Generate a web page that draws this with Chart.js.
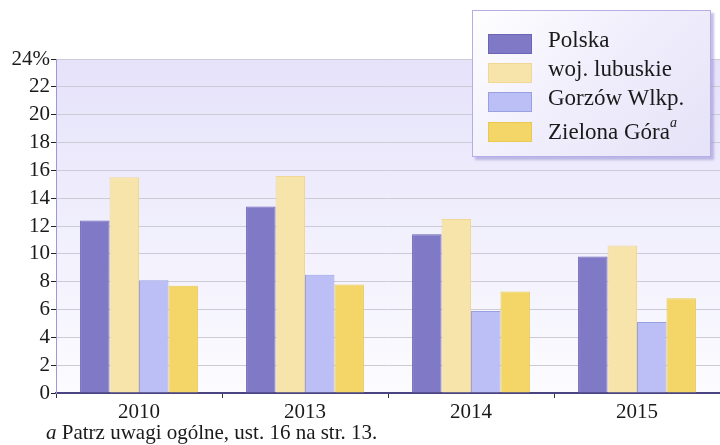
<!DOCTYPE html>
<html>
<head>
<meta charset="utf-8">
<script src="https://cdn.jsdelivr.net/npm/chart.js@4"></script>
<style>
  body { margin: 0; background: #fff; }
  #wrap { position: relative; width: 720px; height: 445px; overflow: hidden; font-family: "Liberation Serif", "Times New Roman", serif; }
  #legend {
    position: absolute; left: 472px; top: 10px; width: 237px; height: 145px;
    border: 1px solid #b4aee6;
    background: linear-gradient(135deg, #ffffff 0%, #f1effc 45%, #e6e2f8 100%);
    box-shadow: 3px 3px 2px rgba(150, 140, 210, 0.55);
  }
  .item { position: absolute; left: 15px; height: 22px; font-size: 23px; color: #1a1a1a; white-space: nowrap; }
  .sw { position: absolute; left: 0; top: 0; width: 42px; height: 18px; border: 1px solid; }
  .lbl { position: absolute; left: 60px; top: -7px; }
  .lbl sup { font-style: italic; font-size: 14px; vertical-align: 12px; }
  #note { position: absolute; left: 46px; top: 420px; font-size: 21px; color: #1a1a1a; white-space: nowrap; }
</style>
</head>
<body>
<div id="wrap">
  <canvas id="chart" width="720" height="445"></canvas>
  <div id="legend"></div>
  <div id="note"><i>a</i> Patrz uwagi ogólne, ust. 16 na str. 13.</div>
</div>
<script>
const years = ['2010', '2013', '2014', '2015'];
const seriesNames = ['Polska', 'woj. lubuskie', 'Gorzów Wlkp.', 'Zielona Góra'];
const polska = [12.4, 13.4, 11.4, 9.8];
const lubuskie = [15.5, 15.6, 12.5, 10.6];
const gorzow = [8.1, 8.5, 5.9, 5.1];
const zielona = [7.7, 7.8, 7.3, 6.8];
const yTicks = [0, 2, 4, 6, 8, 10, 12, 14, 16, 18, 20, 22, 24];

const fills = ['#8079c6', '#f7e4ab', '#bbbff6', '#f3d667'];
const borders = ['#6c64b8', '#f0d894', '#98a0e2', '#e9c94f'];
const values = [polska, lubuskie, gorzow, zielona];

// plot background gradient
const plotBg = {
  id: 'plotBg',
  beforeDraw(c) {
    const a = c.chartArea;
    const g = c.ctx.createLinearGradient(0, a.top, 0, a.bottom);
    g.addColorStop(0, '#e5e2fa');
    g.addColorStop(1, '#fcfcff');
    c.ctx.save();
    c.ctx.fillStyle = g;
    c.ctx.fillRect(a.left, a.top, a.right - a.left, a.bottom - a.top);
    c.ctx.restore();
  }
};

const ctx = document.getElementById('chart').getContext('2d');
const chart = new Chart(ctx, {
  type: 'bar',
  data: {
    labels: years,
    datasets: seriesNames.map((name, i) => ({
      label: name,
      data: values[i],
      backgroundColor: fills[i],
      borderColor: borders[i],
      borderWidth: 1,
      barPercentage: 1,
      categoryPercentage: 0.71
    }))
  },
  options: {
    responsive: false,
    animation: false,
    layout: { padding: { top: 59, right: 0, left: 0, bottom: 0 } },
    plugins: { legend: { display: false }, tooltip: { enabled: false } },
    scales: {
      x: {
        offset: true,
        grid: { drawOnChartArea: false, drawTicks: true, tickLength: 5, offset: true, color: '#333', tickColor: '#333' },
        border: { color: '#4a4480', width: 2 },
        ticks: { color: '#1a1a1a', font: { family: 'Liberation Serif', size: 21 }, padding: 2 },
        afterFit(s) { s.height = 52; }
      },
      y: {
        min: 0,
        max: 24,
        afterBuildTicks(s) { s.ticks = yTicks.map(v => ({ value: v })); },
        grid: { color: '#cccbd6', tickColor: '#222', tickLength: 5 },
        border: { color: '#9c98dc', width: 1 },
        ticks: {
          autoSkip: false,
          color: '#1a1a1a',
          font: { family: 'Liberation Serif', size: 21 },
          padding: 1,
          callback: v => v === 24 ? '24%' : v
        },
        afterFit(s) { s.width = 56; }
      }
    }
  },
  plugins: [plotBg]
});

// legend built from the datasets
const legend = document.getElementById('legend');
const rowTops = [23, 52, 81, 111];
seriesNames.forEach((name, i) => {
  const it = document.createElement('div');
  it.className = 'item';
  it.style.top = rowTops[i] + 'px';
  const text = i === 3 ? name + '<sup>a</sup>' : name;
  it.innerHTML = `<div class="sw" style="background:${fills[i]};border-color:${borders[i]}"></div><div class="lbl">${text}</div>`;
  legend.appendChild(it);
});
</script>
</body>
</html>
